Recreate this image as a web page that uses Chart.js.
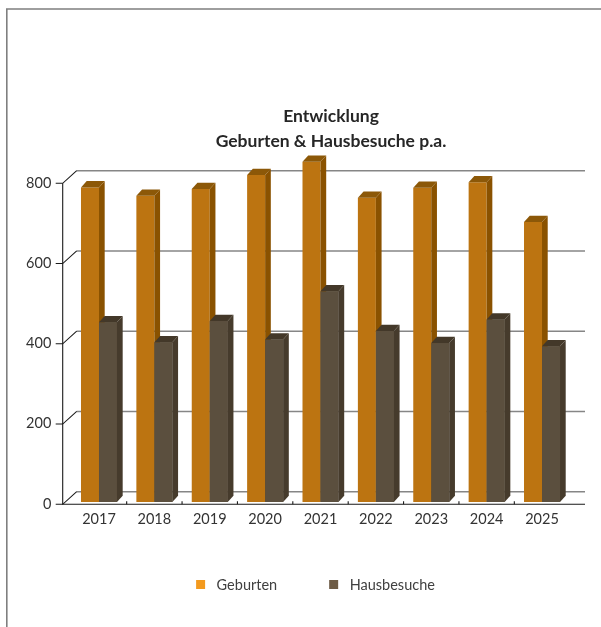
<!DOCTYPE html>
<html>
<head>
<meta charset="utf-8">
<title>Entwicklung Geburten & Hausbesuche</title>
<script src="https://cdn.jsdelivr.net/npm/chart.js@4.4.1/dist/chart.umd.min.js"></script>
<style>
    html, body { margin: 0; padding: 0; background: #ffffff; }
    #wrap { width: 601px; height: 627px; position: relative; }
</style>
</head>
<body>
<div id="wrap"><canvas id="devChart"></canvas></div>
<script>
// Werte
const years = ['2017', '2018', '2019', '2020', '2021', '2022', '2023', '2024', '2025'];
const geburten = [784, 763, 780, 815, 848, 758, 783, 797, 698];
const hausbesuche = [448, 398, 451, 405, 525, 426, 396, 455, 388];
const yTicks = [0, 200, 400, 600, 800];
const titleLines = ['Entwicklung', 'Geburten & Hausbesuche p.a.'];

// Farben: Vorderseite, Seite, Deckel, Legende
const faceColors = ['#bc7411', '#5b4f3e'];
const sideColors = ['#8a5200', '#463b2c'];
const topColors = ['#8c5808', '#433829'];
const keyColors = ['#f39a1e', '#6e5c46'];

const FONT = 'Lato, "Open Sans", sans-serif';

// 3D-Versatz (Wand und Balkentiefe)
const wallDx = 14, wallDy = 12.6;
const barDx = 5.7, barDy = 6.3;
const frontOffset = 2.3;

const chart3d = {
    id: 'chart3d',
    beforeDatasetsDraw(chart) {
        const ctx = chart.ctx;
        const y = chart.scales.y;
        const x = chart.scales.x;
        const area = chart.chartArea;
        const frontX = area.left - 8.6;
        const rightX = area.right + 15.3;

        ctx.save();
        // Rahmen
        ctx.strokeStyle = '#7f7f7f';
        ctx.lineWidth = 1.6;
        ctx.beginPath();
        ctx.moveTo(6.8, chart.height);
        ctx.lineTo(6.8, 9);
        ctx.lineTo(chart.width, 9);
        ctx.stroke();

        // Rueckwand-Gitterlinien
        ctx.strokeStyle = '#868686';
        ctx.lineWidth = 1.4;
        yTicks.forEach(function(v) {
            const fy = y.getPixelForValue(v) + frontOffset;
            ctx.beginPath();
            ctx.moveTo(frontX + wallDx, fy - wallDy);
            ctx.lineTo(rightX, fy - wallDy);
            ctx.stroke();
        });

        // Vordere Achsen und Diagonalen
        ctx.strokeStyle = '#1a1a1a';
        ctx.lineWidth = 1.1;
        const y0 = y.getPixelForValue(0) + frontOffset;
        const yTop = y.getPixelForValue(800) + frontOffset;
        ctx.beginPath();
        ctx.moveTo(frontX, yTop);
        ctx.lineTo(frontX, y0);
        ctx.lineTo(rightX, y0);
        ctx.stroke();
        yTicks.forEach(function(v) {
            const fy = y.getPixelForValue(v) + frontOffset;
            ctx.beginPath();
            ctx.moveTo(frontX - 7, fy);
            ctx.lineTo(frontX, fy);
            ctx.lineTo(frontX + wallDx, fy - wallDy);
            ctx.stroke();
        });
        // kleine Teilstriche zwischen den Jahren
        for (let i = 1; i < years.length; i++) {
            const bx = (x.getPixelForValue(i - 1) + x.getPixelForValue(i)) / 2;
            ctx.beginPath();
            ctx.moveTo(bx, y0);
            ctx.lineTo(bx, y0 - 3);
            ctx.stroke();
        }
        ctx.restore();
    },
    afterDatasetsDraw(chart) {
        const ctx = chart.ctx;
        ctx.save();
        chart.data.datasets.forEach(function(ds, di) {
            const meta = chart.getDatasetMeta(di);
            meta.data.forEach(function(bar) {
                const p = bar.getProps(['x', 'y', 'base', 'width'], true);
                const left = p.x - p.width / 2;
                const right = p.x + p.width / 2;
                if (di > 0) {
                    ctx.fillStyle = faceColors[di];
                    ctx.fillRect(left, p.y, p.width, p.base - p.y);
                }
                // Seite
                ctx.fillStyle = sideColors[di];
                ctx.beginPath();
                ctx.moveTo(right, p.y);
                ctx.lineTo(right + barDx, p.y - barDy);
                ctx.lineTo(right + barDx, p.base - barDy);
                ctx.lineTo(right, p.base);
                ctx.closePath();
                ctx.fill();
                // Deckel
                ctx.fillStyle = topColors[di];
                ctx.beginPath();
                ctx.moveTo(left, p.y);
                ctx.lineTo(right, p.y);
                ctx.lineTo(right + barDx, p.y - barDy);
                ctx.lineTo(left + barDx, p.y - barDy);
                ctx.closePath();
                ctx.fill();
            });
        });
        ctx.restore();
    },
    afterDraw(chart) {
        const ctx = chart.ctx;
        ctx.save();
        // Titel
        ctx.fillStyle = '#262626';
        ctx.font = 'bold 17.5px ' + FONT;
        ctx.textAlign = 'center';
        ctx.textBaseline = 'alphabetic';
        ctx.fillText(titleLines[0], 331, 121.5);
        ctx.fillText(titleLines[1], 331, 146.5);

        // Legende
        ctx.font = '14.5px ' + FONT;
        ctx.textAlign = 'left';
        const labels = chart.data.datasets.map(function(d) { return d.label; });
        const widths = labels.map(function(l) { return ctx.measureText(l).width; });
        const gap = 52, boxToText = 20.5;
        let total = 0;
        widths.forEach(function(w, i) { total += boxToText + w + (i > 0 ? gap : 0); });
        let lx = 315.5 - total / 2;
        labels.forEach(function(l, i) {
            ctx.fillStyle = keyColors[i];
            ctx.fillRect(lx, 580, 9, 9);
            ctx.fillStyle = '#404040';
            ctx.fillText(l, lx + boxToText, 589.5);
            lx += boxToText + widths[i] + gap;
        });
        ctx.restore();
    }
};

document.addEventListener('DOMContentLoaded', function() {
    const ctx = document.getElementById('devChart').getContext('2d');
    new Chart(ctx, {
        type: 'bar',
        data: {
            labels: years,
            datasets: [{
                label: 'Geburten',
                data: geburten,
                backgroundColor: faceColors[0],
                borderWidth: 0,
                clip: false
            }, {
                label: 'Hausbesuche',
                data: hausbesuche,
                backgroundColor: faceColors[1],
                borderWidth: 0,
                clip: false
            }]
        },
        options: {
            responsive: true,
            maintainAspectRatio: false,
            animation: false,
            categoryPercentage: 0.65,
            barPercentage: 1.0,
            layout: {
                padding: { top: 181, right: 31.3, bottom: 95, left: 0 }
            },
            scales: {
                x: {
                    grid: { display: false, drawTicks: false },
                    border: { display: false },
                    ticks: {
                        color: '#333333',
                        font: { family: FONT, size: 14.5 },
                        padding: 9,
                        maxRotation: 0
                    },
                    afterFit: function(scale) { scale.height = 30; }
                },
                y: {
                    min: 0,
                    max: 800,
                    grid: { display: false, drawTicks: false },
                    border: { display: false },
                    afterBuildTicks: function(scale) {
                        scale.ticks = yTicks.map(function(v) { return { value: v }; });
                    },
                    ticks: {
                        color: '#333333',
                        font: { family: FONT, size: 14.5 },
                        padding: 20,
                        labelOffset: 2
                    },
                    afterFit: function(scale) { scale.width = 71.3; }
                }
            },
            plugins: {
                legend: { display: false },
                title: { display: false },
                tooltip: { enabled: false }
            }
        },
        plugins: [chart3d]
    });
});
</script>
</body>
</html>
